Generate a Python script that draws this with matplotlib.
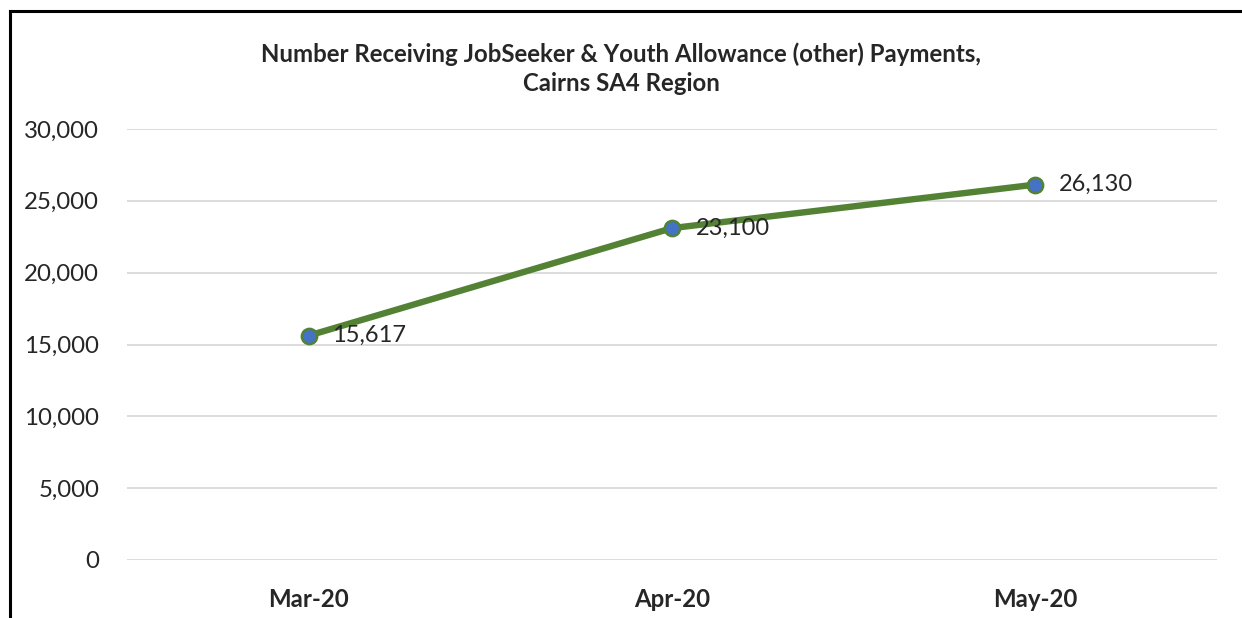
import matplotlib
matplotlib.use("Agg")
import matplotlib.pyplot as plt
from matplotlib.lines import Line2D
from matplotlib.ticker import FuncFormatter

categories = ["Mar-20", "Apr-20", "May-20"]
values = [15617, 23100, 26130]
y_ticks = [0, 5000, 10000, 15000, 20000, 25000, 30000]
title = "Number Receiving JobSeeker & Youth Allowance (other) Payments,\nCairns SA4 Region"

plt.rcParams['font.family'] = ['Lato', 'DejaVu Sans']

W, H = 1242, 618
fig = plt.figure(figsize=(W / 100, H / 100), dpi=100)
ax = fig.add_axes([127 / W, 1 - 560 / H, (1217 - 127) / W, (560 - 129) / H])

x = [i + 0.5 for i in range(len(categories))]
ax.plot(x, values, color="#548235", lw=4.6, marker="o", markersize=11,
        markerfacecolor="#4472C4", markeredgecolor="#548235", markeredgewidth=1.8,
        solid_capstyle="round", zorder=3)
for xi, v in zip(x, values):
    ax.annotate(f"{v:,}", (xi, v), xytext=(17, 0), textcoords="offset points",
                va="center", ha="left", fontsize=17, color="#262626", zorder=4)

ax.set_xlim(0, 3)
ax.set_ylim(0, 30000)
ax.set_yticks(y_ticks)
ax.yaxis.set_major_formatter(FuncFormatter(lambda v, p: f"{int(v):,}"))
ax.set_xticks(x)
ax.set_xticklabels(categories, fontweight="bold")
ax.tick_params(axis="both", length=0, labelsize=17.3, labelcolor="#262626")
ax.tick_params(axis="y", pad=20)
ax.tick_params(axis="x", pad=20)
ax.grid(axis="y", color="#D9D9D9", lw=1.3)
ax.set_axisbelow(True)
for s in ax.spines.values():
    s.set_visible(False)

fig.text(621 / W, 1 - 69 / H, title, ha="center", va="center", fontsize=17.3,
         fontweight="bold", color="#262626", linespacing=1.3)

# chart border
fig.add_artist(Line2D([10 / W, 10 / W], [0, 1 - 11 / H], color="black", lw=2.2, transform=fig.transFigure))
fig.add_artist(Line2D([10 / W, 1], [1 - 11 / H, 1 - 11 / H], color="black", lw=2.2, transform=fig.transFigure))

fig.savefig("out.png", dpi=100)
